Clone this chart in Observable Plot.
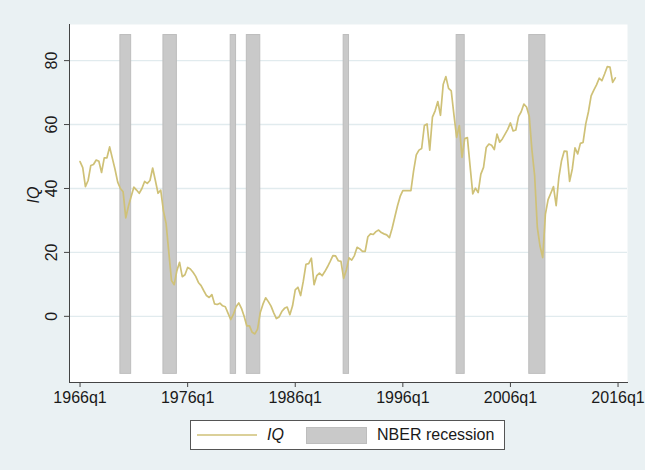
<!DOCTYPE html>
<html>
<head>
<meta charset="utf-8">
<script src="https://cdn.jsdelivr.net/npm/d3@7"></script>
<script src="https://cdn.jsdelivr.net/npm/@observablehq/plot@0.6"></script>
<style>
  html, body { margin: 0; padding: 0; background: #eaf1f3; }
  #wrap { position: relative; width: 645px; height: 470px; background: #eaf1f3; font-family: "Liberation Sans", Arial, sans-serif; }
  #legend { position: absolute; left: 190px; top: 420px; width: 315px; height: 30px; background: #fff; border: 1px solid #555; box-sizing: border-box; }
  #legend .t { position: absolute; top: 5px; font-size: 16px; color: #1a1a1a; line-height: 18px; }
</style>
</head>
<body>
<div id="wrap">
  <div id="chart"></div>
  <div id="legend">
    <svg width="70" height="28" style="position:absolute;left:6px;top:0">
      <line x1="0" x2="60" y1="14" y2="14" stroke="#cfc177" stroke-width="1.6"></line>
    </svg>
    <span class="t" style="left:76px;font-style:italic">IQ</span>
    <div style="position:absolute;left:115px;top:6px;width:61px;height:17px;background:#c9c9c9;border:1px solid #bdbdbd;box-sizing:border-box"></div>
    <span class="t" style="left:186px">NBER recession</span>
  </div>
</div>
<script>
// Series: IQ, quarterly, starting 1966q1
const startYear = 1966;
const iq = [
  48.4, 46.5, 40.6, 42.5, 47.2, 47.5, 48.9, 48.5, 45, 49.6, 49.6, 53,
  49.5, 46, 42, 40, 39, 30.8, 34.5, 37.5, 40.4, 39.5, 38.5, 40,
  42.2, 41.6, 42.5, 46.4, 42.5, 38.5, 39.5, 33, 29, 20, 11.2, 9.9,
  14.3, 16.9, 12.4, 13, 15.3, 14.8, 13.8, 12.5, 10.6, 9.6, 8, 6.5,
  5.9, 6.8, 3.9, 3.7, 4.1, 3.3, 3, 1, -1, 0.6, 3, 4.2,
  2.5, 0, -3, -3, -5, -5.5, -4, 1.2, 3.8, 5.8, 4.6, 3.2,
  1.1, -0.7, -0.2, 1.5, 2.5, 2.9, 0.5, 3.3, 8.3, 9.1, 6.5, 11,
  16.3, 16.5, 18.2, 9.9, 12.7, 13.5, 12.7, 14, 15.5, 17.2, 19, 18.9,
  17.4, 17.2, 11.9, 14.5, 18.3, 17.6, 19, 21.6, 21.1, 20.3, 20.3, 24.9,
  25.8, 25.6, 26.5, 27, 26.2, 25.8, 25.5, 24.6, 27.5, 31, 34.5, 37.5,
  39.3, 39.3, 39.3, 39.3, 45.5, 50.5, 52, 52.5, 59.7, 60.2, 52, 62.3,
  64.3, 67.2, 62.9, 72.5, 75, 71.3, 70.5, 63, 56, 59.7, 49.7, 55.6,
  55.9, 47, 38.3, 40.1, 38.7, 44.5, 46.6, 52.8, 53.9, 53.5, 52.2, 57,
  54.5, 55.5, 57, 58.5, 60.5, 58, 58.3, 62.5, 64, 66.4, 65.5, 62.5,
  52, 44, 27.8, 22, 18.4, 32, 36.5, 38.5, 40.6, 34.6, 43.5, 48.7,
  51.7, 51.6, 42.2, 46.1, 52.7, 50.8, 54.1, 54.4, 60.2, 64, 69, 70.8,
  72.4, 74.5, 73.7, 75.8, 78.1, 78, 73.2, 74.6
];

// NBER recessions
const recStart = ["1969q4", "1973q4", "1980q1", "1981q3", "1990q3", "2001q1", "2007q4"];
const recEnd   = ["1970q4", "1975q1", "1980q3", "1982q4", "1991q1", "2001q4", "2009q2"];
const recLow = -18, recHigh = 88;

// Axis ticks
const xTicks = [1966, 1976, 1986, 1996, 2006, 2016];
const xTickLabels = ["1966q1", "1976q1", "1986q1", "1996q1", "2006q1", "2016q1"];
const yTicks = [0, 20, 40, 60, 80];

const parseQ = s => { const [y, q] = s.split("q"); return +y + (+q - 1) / 4; };
const series = iq.map((v, i) => ({ t: startYear + i / 4, v }));
const recessions = recStart.map((s, i) => ({ x1: parseQ(s), x2: parseQ(recEnd[i]) }));

const chart = Plot.plot({
  width: 645,
  height: 412,
  marginLeft: 69,
  marginRight: 18,
  marginTop: 24,
  marginBottom: 30,
  style: { background: "transparent", fontFamily: "'Liberation Sans', Arial, sans-serif", fontSize: "16px", color: "#1a1a1a" },
  x: { domain: [1965.02, 2016.88] },
  y: { domain: [-20.7, 91.3] },
  marks: [
    Plot.frame({ fill: "white" }),
    Plot.gridY(yTicks, { stroke: "#e1ebee", strokeOpacity: 1, strokeWidth: 1.4 }),
    Plot.rectY(recessions, { x1: "x1", x2: "x2", y1: recLow, y2: recHigh, fill: "#c9c9c9", stroke: "#bdbdbd", strokeWidth: 1 }),
    Plot.line(series, { x: "t", y: "v", stroke: "#cfc177", strokeWidth: 1.7 }),
    Plot.frame({ anchor: "left", stroke: "#444" }),
    Plot.frame({ anchor: "bottom", stroke: "#444" }),
    Plot.axisY(yTicks, { tickSize: 5, tickPadding: 8, tickRotate: -90, stroke: "#444", label: null, fontSize: 16 }),
    Plot.axisX(xTicks, { tickSize: 5, tickPadding: 4, tickFormat: d => xTickLabels[xTicks.indexOf(d)], stroke: "#444", label: null, fontSize: 16 }),
    Plot.text(["IQ"], { frameAnchor: "left", dx: -36, rotate: -90, fontStyle: "italic", fontSize: 16, fill: "#1a1a1a" })
  ]
});
document.getElementById("chart").appendChild(chart);
</script>
</body>
</html>
